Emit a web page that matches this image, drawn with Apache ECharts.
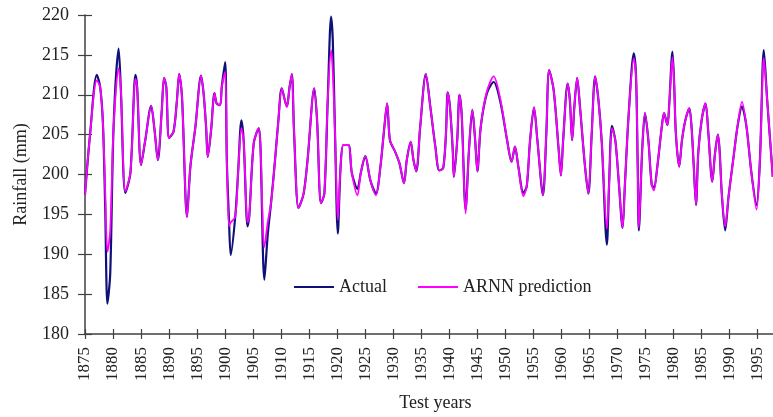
<!DOCTYPE html>
<html>
<head>
<meta charset="utf-8">
<script src="https://cdn.jsdelivr.net/npm/echarts@6/dist/echarts.min.js"></script>
<style>
html,body{margin:0;padding:0;background:#fff;}
#chart{width:773px;height:417px;}
</style>
</head>
<body>
<div id="chart"></div>
<script>
const years = [
1875.0,1875.9,1877.1,1877.7,1878.2,1878.6,1879.0,1879.5,1880.1,1881.0,1881.4,1882.2,1883.1,1884.0,1884.3,1885.0,1885.75,1886.8,1887.4,1888.0,
1888.7,1889.1,1889.5,1890.0,1890.8,1891.4,1891.8,1892.3,1893.2,1893.8,1894.7,1895.7,1896.15,1896.6,1896.9,1897.5,1898.1,1898.5,1899.1,1899.4,
1900.0,1900.3,1900.7,1901.0,1901.8,1902.3,1902.9,1903.3,1904.0,1904.3,1905.1,1906.0,1906.3,1907.0,1907.6,1908.2,1908.9,1909.5,1910.1,1911.0,
1911.5,1911.9,1912.3,1913.1,1914.0,1914.7,1915.9,1916.4,1917.1,1917.7,1918.3,1918.9,1919.2,1919.6,1920.1,1920.6,1921.1,1922.0,1922.6,1923.6,
1924.2,1925.0,1925.9,1926.9,1927.7,1928.3,1928.9,1929.4,1930.3,1931.1,1931.9,1932.4,1933.1,1933.6,1934.1,1934.8,1935.8,1936.6,1937.5,1938.2,
1938.9,1939.4,1939.7,1940.1,1940.6,1940.8,1941.4,1941.8,1942.2,1942.9,1943.5,1944.1,1944.6,1945.0,1945.6,1946.7,1947.9,1949.1,1950.3,1951.1,
1951.7,1952.3,1953.2,1953.8,1954.4,1955.1,1955.7,1956.7,1957.3,1957.8,1958.6,1959.5,1959.9,1960.3,1961.1,1961.5,1961.9,1962.3,1962.8,1963.3,
1964.2,1964.8,1965.4,1966.0,1966.6,1967.2,1968.1,1968.5,1969.0,1969.6,1970.2,1970.9,1971.3,1972.0,1972.9,1973.3,1973.6,1973.8,1974.4,1974.9,
1975.5,1976.1,1976.5,1977.1,1977.9,1978.3,1978.9,1979.2,1979.8,1980.1,1980.4,1981.0,1981.5,1982.1,1982.8,1983.2,1983.6,1984.0,1984.4,1985.0,
1985.7,1986.2,1986.9,1987.4,1987.9,1988.2,1988.6,1989.2,1989.8,1990.7,1991.4,1992.2,1993.0,1993.9,1994.8,1995.4,1996.1,1996.7,1997.7
];
const actual = [
197.5,205.0,212.5,211.0,206.4,196.0,183.8,187.6,206.0,215.8,210.6,197.7,200.2,212.5,211.0,201.2,204.3,208.6,205.6,201.8,
208.1,212.1,211.0,204.6,205.4,209.3,212.6,209.8,194.7,201.0,206.0,212.4,210.2,206.0,202.2,205.6,210.2,208.9,208.7,211.0,
214.1,201.8,194.0,189.9,194.7,200.1,206.8,204.3,193.5,194.7,203.9,205.8,203.5,186.8,192.5,196.5,201.8,206.8,210.8,208.5,
211.0,212.6,205.2,195.8,197.6,201.8,210.8,206.8,196.4,197.6,209.3,219.8,216.9,205.2,192.6,201.0,203.7,203.7,200.2,198.2,
200.2,202.3,199.3,197.6,201.0,205.2,208.9,204.3,202.9,201.4,198.9,201.8,204.1,201.8,200.4,206.0,212.6,208.5,203.5,200.5,
200.8,205.2,210.3,208.5,203.1,199.7,204.3,210.0,207.5,195.6,203.1,208.1,204.3,200.4,206.0,210.2,211.6,209.1,204.3,201.6,
203.5,201.0,197.7,198.5,204.3,208.4,204.3,197.4,205.2,213.1,210.6,203.1,199.9,204.3,211.4,209.3,204.3,208.5,212.1,208.5,
201.0,197.6,205.2,212.3,209.3,203.9,191.2,198.9,206.1,204.3,199.3,193.3,198.5,207.7,215.2,212.3,201.0,193.0,203.1,207.7,
204.3,198.7,198.4,201.0,206.0,207.7,206.2,208.5,215.4,211.4,205.2,201.0,204.3,206.8,208.3,206.0,201.0,196.2,202.7,206.8,
208.9,205.2,199.1,202.7,205.0,203.1,197.6,193.0,197.2,202.2,206.0,208.5,206.0,200.1,196.2,201.8,215.6,209.3,199.7
];
const predicted = [
197.5,205.0,211.8,211.0,206.4,198.0,190.3,193.0,206.0,213.3,210.6,197.9,200.2,212.0,211.0,201.2,204.3,208.6,205.6,201.8,
208.1,212.1,211.0,204.6,205.4,209.3,212.6,209.8,194.7,201.0,206.0,212.4,210.2,206.0,202.2,205.6,210.2,208.9,208.7,211.0,
212.9,201.8,193.5,194.0,194.7,200.1,205.8,204.3,194.0,194.7,203.9,205.8,203.5,190.9,194.0,196.5,201.8,206.8,210.8,208.5,
211.0,212.6,205.2,195.8,197.6,201.8,210.8,206.8,196.4,197.6,209.3,215.6,213.0,205.2,194.3,201.0,203.7,203.7,200.2,197.4,
200.2,202.3,199.3,197.4,201.0,205.2,208.9,204.3,202.9,201.4,198.9,201.8,204.1,201.8,200.4,206.0,212.6,208.5,203.5,200.5,
200.8,205.2,210.3,208.5,203.1,199.7,204.3,210.0,207.5,195.1,203.1,208.1,204.3,200.4,206.0,210.4,212.3,209.4,204.3,201.6,
203.5,201.0,197.3,198.5,204.3,208.4,204.3,197.4,205.2,213.1,210.6,203.1,199.9,204.3,211.4,209.3,204.3,208.5,212.1,208.5,
201.0,197.6,205.2,212.3,209.3,203.9,193.2,198.9,205.8,204.3,199.3,193.3,198.5,207.7,214.6,212.3,201.0,193.3,203.1,207.7,
204.3,198.7,198.0,201.0,206.0,207.7,206.2,208.5,214.7,211.4,205.2,201.0,204.3,206.8,208.3,206.0,201.0,196.2,202.7,206.8,
208.9,205.2,199.1,202.7,205.0,203.1,197.6,193.5,197.2,202.2,206.0,209.1,206.0,200.1,195.6,201.8,214.6,209.3,199.7
];
const seriesNames = ['Actual', 'ARNN prediction'];
const yMin = 180, yMax = 220, yStep = 5;
const xMin = 1875, xMax = 2000, xStep = 5;

const serif = "'Liberation Serif','Times New Roman',serif";
const actualData = years.map((y, i) => [y, actual[i]]);
const predData = years.map((y, i) => [y, predicted[i]]);

const chart = echarts.init(document.getElementById('chart'), null, {renderer: 'canvas'});
chart.setOption({
  animation: false,
  backgroundColor: '#ffffff',
  textStyle: {fontFamily: serif},
  grid: {left: 85, width: 700.7, top: 15, bottom: 83, containLabel: false, outerBoundsMode: 'none'},
  legend: {
    data: seriesNames.map(n => ({name: n, icon: 'rect'})),
    left: 289, top: 273,
    itemWidth: 40, itemHeight: 2, itemGap: 31,
    textStyle: {fontFamily: serif, fontSize: 18, color: '#222'}
  },
  xAxis: [{
    type: 'value', min: xMin, max: xMax, interval: xStep,
    name: 'Test years', nameLocation: 'middle', nameGap: 60,
    nameTextStyle: {fontFamily: serif, fontSize: 18, color: '#222'},
    axisLine: {show: true, lineStyle: {color: '#404040', width: 1.5}},
    axisTick: {show: true, inside: false, length: 5, lineStyle: {color: '#404040', width: 1.2}},
    axisLabel: {rotate: 90, margin: 13, fontFamily: serif, fontSize: 17, color: '#222',
      formatter: v => (v % 5 === 0 && v <= 1995) ? String(v) : ''},
    splitLine: {show: false}
  }, {
    type: 'value', min: xMin, max: xMax, interval: xStep, position: 'bottom',
    axisLine: {show: false},
    axisTick: {show: true, inside: true, length: 5, lineStyle: {color: '#404040', width: 1.2}},
    axisLabel: {show: false}, splitLine: {show: false}
  }],
  yAxis: [{
    type: 'value', min: yMin, max: yMax, interval: yStep,
    name: 'Rainfall (mm)', nameLocation: 'middle', nameGap: 55,
    nameTextStyle: {fontFamily: serif, fontSize: 18, color: '#222'},
    axisLine: {show: true, lineStyle: {color: '#404040', width: 1.5}},
    axisTick: {show: true, inside: false, length: 7, lineStyle: {color: '#404040', width: 1.2}},
    axisLabel: {margin: 16, fontFamily: serif, fontSize: 18, color: '#222'},
    splitLine: {show: false}
  }, {
    type: 'value', min: yMin, max: yMax, interval: yStep, position: 'left',
    axisLine: {show: false},
    axisTick: {show: true, inside: true, length: 7, lineStyle: {color: '#404040', width: 1.2}},
    axisLabel: {show: false}, splitLine: {show: false}
  }],
  series: [{
    name: seriesNames[0], type: 'line', data: actualData, symbol: 'none', smooth: 0.3,
    xAxisIndex: 0, yAxisIndex: 0,
    lineStyle: {color: '#10107a', width: 2.2}, itemStyle: {color: '#10107a'}, z: 2
  }, {
    name: seriesNames[1], type: 'line', data: predData, symbol: 'none', smooth: 0.3,
    xAxisIndex: 0, yAxisIndex: 0,
    lineStyle: {color: '#ff00ff', width: 1.8}, itemStyle: {color: '#ff00ff'}, z: 3
  }]
});
</script>
</body>
</html>
